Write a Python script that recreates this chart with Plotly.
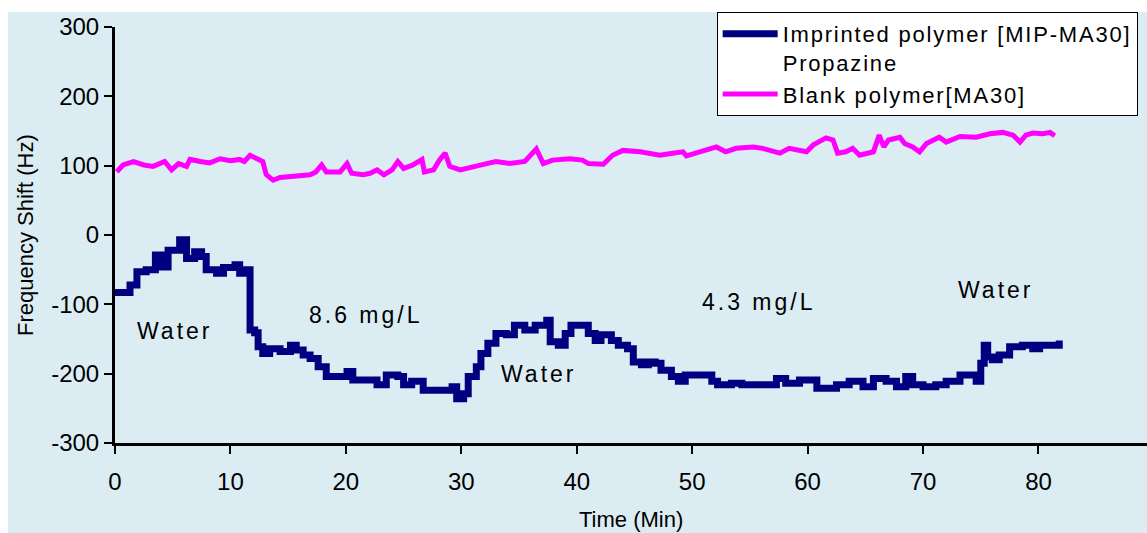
import plotly.graph_objects as go

# ---- data ----
mip_time = [0, 1.3, 1.9, 2.7, 3.5, 4.0, 4.6, 5.6, 6.2, 6.9, 7.5, 7.9, 8.8, 9.4, 10.4,
            10.8, 11.4, 11.7, 12.1, 12.4, 12.8, 13.4, 14.3, 15.2, 15.7, 16.3, 16.9, 17.6, 18.3, 19.5,
            20.1, 20.6, 21.8, 22.7, 23.5, 24.5, 25.0, 25.7, 26.7, 28.0, 29.2, 29.6, 30.2, 30.6, 31.3,
            31.7, 32.3, 33.0, 33.9, 34.6, 35.5, 36.4, 37.4, 37.7, 38.4, 39.0, 39.5, 40.7, 41.0, 41.6,
            42.1, 43.0, 43.6, 44.4, 44.9, 45.6, 46.2, 46.8, 47.3, 48.2, 48.8, 49.4, 51.1, 51.7, 52.2,
            53.4, 54.3, 55.6, 57.3, 58.1, 59.3, 60.8, 62.5, 63.6, 64.8, 65.7, 66.8, 67.7, 68.5, 69.1,
            70.0, 71.1, 72.0, 73.2, 74.0, 74.6, 75.0, 75.3, 75.6, 76.0, 76.6, 77.5, 78.6, 79.5, 80.1,
            81.8]
mip_shift = [-83, -72, -53, -50, -29, -46, -22, -7, -34, -24, -31, -50, -55, -47, -43,
             -55, -50, -137, -141, -161, -171, -164, -168, -159, -166, -173, -178, -190, -204, -204,
             -197, -209, -209, -216, -202, -204, -216, -211, -224, -224, -219, -236, -229, -204, -190,
             -171, -156, -142, -144, -130, -137, -130, -123, -154, -159, -142, -130, -130, -142, -152,
             -144, -152, -159, -164, -183, -187, -183, -185, -195, -204, -211, -202, -202, -211, -216,
             -214, -216, -216, -207, -214, -209, -221, -216, -211, -219, -207, -211, -219, -204, -216,
             -219, -216, -211, -202, -202, -211, -185, -159, -176, -180, -173, -161, -159, -164, -159,
             -152]

blank_time = [0.15, 0.7, 1.6, 2.5, 3.3, 4.3, 4.9, 5.5, 6.2, 6.5, 7.4, 8.2, 9.1, 10.0, 10.8,
              11.2, 11.7, 12.3, 12.8, 13.1, 13.7, 14.3, 15.2, 16.9, 17.4, 17.9, 18.3, 19.5, 20.1, 20.5,
              21.5, 22.1, 22.7, 23.3, 24.0, 24.5, 25.0, 25.8, 26.6, 26.8, 27.6, 28.1, 28.6, 29.0, 29.9,
              31.0, 32.2, 33.0, 34.2, 35.5, 36.5, 37.1, 37.9, 39.4, 40.5, 41.0, 42.3, 43.1, 44.0, 45.5,
              47.2, 48.3, 49.2, 49.5, 50.3, 52.1, 52.9, 53.8, 55.3, 56.1, 57.6, 58.4, 59.9, 60.5, 61.6,
              62.2, 62.6, 63.3, 63.9, 64.5, 65.7, 66.1, 66.2, 66.6, 67.0, 68.0, 68.4, 69.1, 69.7, 70.3,
              71.4, 72.0, 73.2, 74.6, 75.8, 76.9, 77.8, 78.4, 78.9, 79.5, 80.4, 81.0, 81.4]
blank_shift = [91, 101, 106, 101, 99, 106, 94, 103, 99, 109, 106, 104, 110, 107, 109,
               106, 115, 110, 106, 87, 79, 83, 85, 87, 91, 101, 91, 91, 103, 89,
               87, 89, 94, 87, 94, 106, 96, 101, 109, 91, 94, 108, 118, 99, 94,
               99, 103, 106, 103, 106, 124, 103, 108, 110, 108, 103, 102, 115, 122, 120,
               115, 118, 120, 114, 118, 127, 120, 125, 127, 125, 118, 125, 120, 130, 140,
               137, 118, 120, 125, 115, 120, 140, 144, 127, 137, 141, 132, 127, 120, 132,
               141, 134, 142, 141, 146, 148, 144, 134, 144, 147, 146, 148, 143]

label_text = ["Water", "8.6 mg/L", "Water", "4.3 mg/L", "Water"]
label_x = [5.2, 21.7, 36.7, 55.8, 76.3]
label_y = [-139, -116, -201, -97, -79]

x_ticks = [0, 10, 20, 30, 40, 50, 60, 70, 80]
y_ticks = [-300, -200, -100, 0, 100, 200, 300]
y_tick_text = ["-300", "-200", "-100", "0", "100", "200", "300"]

BG = "#DBEDF3"
FONT = "Liberation Sans, Arial, sans-serif"
SPACED = '<span style="letter-spacing:%s">%s</span>'

fig = go.Figure()
fig.add_trace(go.Scatter(
    x=mip_time, y=mip_shift, mode="lines", line_shape="hv",
    line=dict(color="#000080", width=7),
    name=SPACED % ("1.8px", "Imprinted polymer [MIP-MA30]") + "<br>" + SPACED % ("1.8px", "Propazine")))
fig.add_trace(go.Scatter(
    x=blank_time, y=blank_shift, mode="lines",
    line=dict(color="#FF00FF", width=5),
    name=SPACED % ("1.8px", "Blank polymer[MA30]")))

annotations = []
for t, xv, yv in zip(label_text, label_x, label_y):
    annotations.append(dict(
        x=xv, y=yv, xref="x", yref="y", showarrow=False,
        text=SPACED % ("3px", t),
        font=dict(family=FONT, size=23, color="black"),
        xanchor="center", yanchor="middle"))
annotations.append(dict(
    x=-0.0872, y=0.5, xref="paper", yref="paper", showarrow=False,
    text="Frequency Shift (Hz)", textangle=-90,
    font=dict(family=FONT, size=22, color="black"),
    xanchor="center", yanchor="middle"))
annotations.append(dict(
    x=0.5, y=-0.183, xref="paper", yref="paper", showarrow=False,
    text="Time (Min)",
    font=dict(family=FONT, size=22, color="black"),
    xanchor="center", yanchor="middle"))

fig.update_layout(
    width=1147, height=533, autosize=False,
    margin=dict(l=115, r=0, t=27, b=90),
    paper_bgcolor="white", plot_bgcolor=BG,
    font=dict(family=FONT, color="black"),
    annotations=annotations,
    shapes=[dict(type="rect", xref="paper", yref="paper",
                 x0=-0.1037, x1=1.01, y0=-0.25, y1=1.036,
                 fillcolor=BG, line=dict(width=0), layer="below")],
    showlegend=True,
    legend=dict(x=0.583, y=1.036, xanchor="left", yanchor="top",
                bgcolor="white", bordercolor="black", borderwidth=1,
                font=dict(family=FONT, size=22, color="black"),
                valign="top", tracegroupgap=0, itemwidth=55),
)
fig.update_xaxes(range=[0, 89.4], tickvals=x_ticks, showgrid=False, zeroline=False,
                 showline=True, linecolor="black", linewidth=3,
                 ticks="outside", ticklen=8, tickwidth=2, tickcolor="black",
                 tickfont=dict(family=FONT, size=24), ticklabelstandoff=7)
fig.update_yaxes(range=[-300, 300], tickvals=y_ticks, ticktext=y_tick_text,
                 showgrid=False, zeroline=False,
                 showline=True, linecolor="black", linewidth=3,
                 ticks="outside", ticklen=8, tickwidth=2, tickcolor="black",
                 tickfont=dict(family=FONT, size=24))

fig.write_html("out.html")
